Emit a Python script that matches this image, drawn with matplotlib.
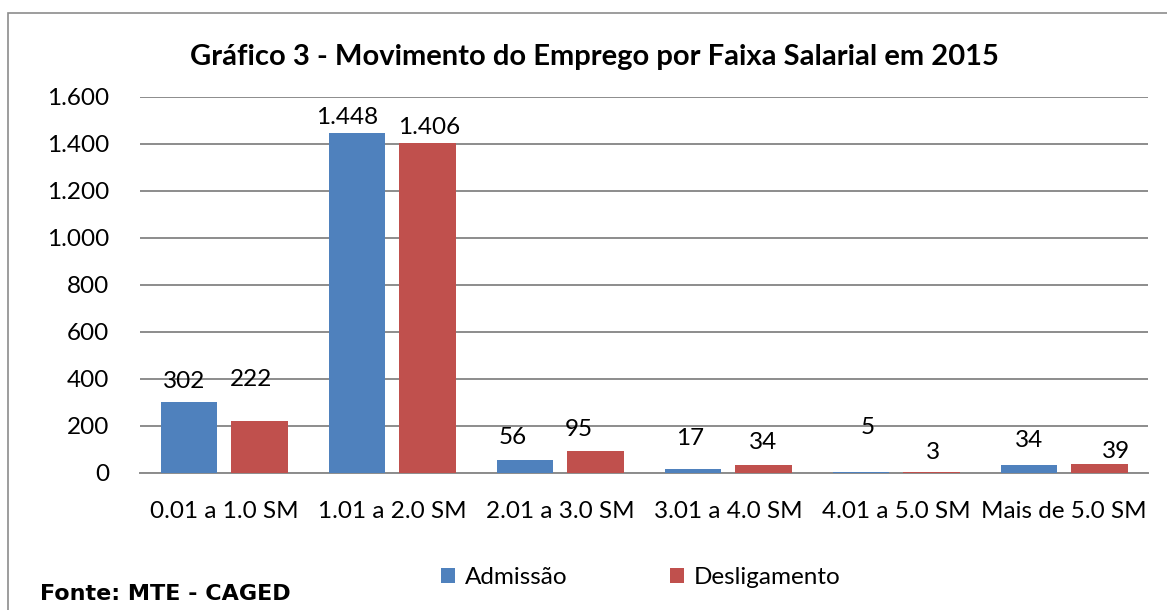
import matplotlib.pyplot as plt
from matplotlib.patches import Rectangle
import numpy as np

plt.rcParams['font.family'] = ['Lato', 'DejaVu Sans']

# data
categories = ['0.01 a 1.0 SM', '1.01 a 2.0 SM', '2.01 a 3.0 SM',
              '3.01 a 4.0 SM', '4.01 a 5.0 SM', 'Mais de 5.0 SM']
admissao = [302, 1448, 56, 17, 5, 34]
desligamento = [222, 1406, 95, 34, 3, 39]
yticks = [0, 200, 400, 600, 800, 1000, 1200, 1400, 1600]

# label offsets (points) as they sit in the original
adm_dx = [-3, -7, -9, -2, 5, 0]
adm_dy = [15, 11, 16, 22, 32, 18]
des_dx = [-6, 1, -12, 0, 1, 12]
des_dy = [30, 11, 15, 16, 14, 9]


def fmt(v):
    return f'{v:,}'.replace(',', '.')


blue = '#4F81BD'
red = '#C0504D'
fs = 17.5

fig = plt.figure(figsize=(11.67, 6.10), dpi=100)
ax = fig.add_axes([0.12, 0.2246, 0.864, 0.6164])

x = np.arange(len(categories))
w = 0.335
ax.bar(x - 0.21, admissao, w, color=blue, label='Admissão', zorder=3)
ax.bar(x + 0.21, desligamento, w, color=red, label='Desligamento', zorder=3)

for i in range(len(categories)):
    ax.annotate(fmt(admissao[i]), (x[i] - 0.21, admissao[i]),
                xytext=(adm_dx[i], adm_dy[i]), textcoords='offset points',
                ha='center', va='center', fontsize=fs)
    ax.annotate(fmt(desligamento[i]), (x[i] + 0.21, desligamento[i]),
                xytext=(des_dx[i], des_dy[i]), textcoords='offset points',
                ha='center', va='center', fontsize=fs)

ax.set_xlim(-0.5, len(categories) - 0.5)
ax.set_ylim(0, 1600)
ax.set_yticks(yticks)
ax.set_yticklabels([fmt(v) for v in yticks], fontsize=fs)
ax.set_xticks(x)
ax.set_xticklabels(categories, fontsize=fs)
ax.tick_params(length=0, pad=22, axis='y')
ax.tick_params(length=0, pad=20, axis='x')
ax.grid(axis='y', color='#8c8c8c', linewidth=1.4, zorder=0)
for s in ['top', 'right', 'left']:
    ax.spines[s].set_visible(False)
ax.spines['bottom'].set_color('#8c8c8c')
ax.spines['bottom'].set_linewidth(1.4)

fig.text(0.509, 0.906, 'Gráfico 3 - Movimento do Emprego por Faixa Salarial em 2015',
         ha='center', va='center', fontsize=21, fontweight='bold')

fig.legend(loc='center', bbox_to_anchor=(0.549, 0.053), ncol=2, frameon=False,
           fontsize=fs, handlelength=0.6, handleheight=0.6, handletextpad=0.4,
           columnspacing=4.2)

fig.text(0.034, 0.026, 'Fonte: MTE - CAGED', ha='left', va='center',
         fontsize=16, fontweight='bold', family=['DejaVu Sans'])

fig.patches.append(Rectangle((8 / 1167, -0.1), 1.2, 0.1 + (610 - 13) / 610,
                             transform=fig.transFigure, fill=False,
                             edgecolor='#8c8c8c', linewidth=1.2))

fig.savefig('out.png', dpi=100)
